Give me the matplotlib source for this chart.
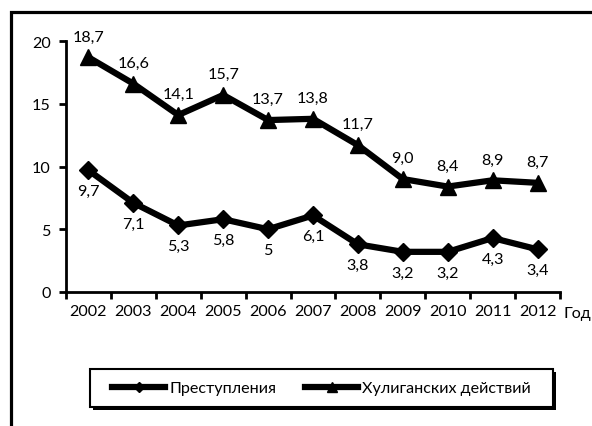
import matplotlib.pyplot as plt
from matplotlib.patches import Rectangle

plt.rcParams['font.family'] = ['Lato', 'DejaVu Sans']

years = ['2002', '2003', '2004', '2005', '2006', '2007', '2008', '2009', '2010', '2011', '2012']
huligan = [18.7, 16.6, 14.1, 15.7, 13.7, 13.8, 11.7, 9.0, 8.4, 8.9, 8.7]
huligan_labels = ['18,7', '16,6', '14,1', '15,7', '13,7', '13,8', '11,7', '9,0', '8,4', '8,9', '8,7']
prestup = [9.7, 7.1, 5.3, 5.8, 5, 6.1, 3.8, 3.2, 3.2, 4.3, 3.4]
prestup_labels = ['9,7', '7,1', '5,3', '5,8', '5', '6,1', '3,8', '3,2', '3,2', '4,3', '3,4']

fs = 11.6
W, H = 592, 427

fig = plt.figure(figsize=(W/100, H/100), dpi=100)
ax = fig.add_axes([66/W, 1-293/H, 494/W, 251/H])

# рамка вокруг диаграммы (обрезана справа и снизу)
fig.patches.append(Rectangle((11/W, -0.2), 1.2, 1.2 - 14/H + 0.002,
                             transform=fig.transFigure, fill=False,
                             edgecolor='black', linewidth=2.3))

# рамка легенды с тенью (под осями, чтобы легенда была сверху)
fig.patches.append(Rectangle((93/W, 1-411/H), 463/W, 38/H, transform=fig.transFigure,
                             facecolor='black', edgecolor='none', zorder=-2))
fig.patches.append(Rectangle((90/W, 1-408/H), 463/W, 38/H, transform=fig.transFigure,
                             facecolor='white', edgecolor='black', linewidth=1.5,
                             zorder=-1))

x = list(range(len(years)))
ax.plot(x, prestup, color='black', linewidth=4.5, marker='D', markersize=9,
        label='Преступления')
ax.plot(x, huligan, color='black', linewidth=4.5, marker='^', markersize=11,
        label='Хулиганских действий')

for i in x:
    ax.annotate(huligan_labels[i], (i, huligan[i]), xytext=(0, 10),
                textcoords='offset points', ha='center', va='bottom', fontsize=fs)
    ax.annotate(prestup_labels[i], (i, prestup[i]), xytext=(0, -10),
                textcoords='offset points', ha='center', va='top', fontsize=fs)

ax.set_xlim(-0.5, len(years) - 0.5)
ax.set_ylim(0, 20)
ax.set_yticks([0, 5, 10, 15, 20])
ax.set_xticks([i - 0.5 for i in range(len(years) + 1)])
ax.set_xticklabels([])
ax.set_xticks(x, minor=True)
ax.set_xticklabels(years, minor=True)
ax.tick_params(axis='x', which='minor', length=0, labelsize=fs, pad=9)
ax.tick_params(axis='x', which='major', length=5, width=2)
ax.tick_params(axis='y', length=5, width=2, labelsize=fs, pad=6)

for s in ['top', 'right']:
    ax.spines[s].set_visible(False)
for s in ['left', 'bottom']:
    ax.spines[s].set_linewidth(2)

ax.text(1.008, -0.085, 'Год', transform=ax.transAxes, fontsize=fs, ha='left', va='center')

leg = ax.legend(loc='center', bbox_to_anchor=((90 + 553) / 2 / W, 1 - 389 / H),
                bbox_transform=fig.transFigure, ncol=2, fontsize=fs, frameon=False,
                handlelength=3.3, handletextpad=0.25, columnspacing=1.8,
                markerscale=0.6)

fig.savefig('out.png', dpi=100)
